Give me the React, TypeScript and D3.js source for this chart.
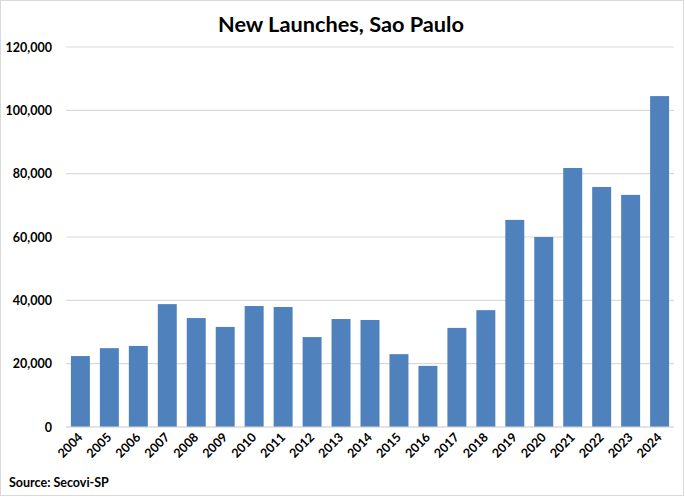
import React from "react";
import * as d3 from "d3";

const years = ["2004","2005","2006","2007","2008","2009","2010","2011","2012","2013","2014","2015","2016","2017","2018","2019","2020","2021","2022","2023","2024"];
const launches = [22400,24900,25600,38800,34400,31600,38200,37900,28400,34100,33800,23000,19300,31300,36900,65400,60000,81800,75800,73300,104500];
const yTicks = [0,20000,40000,60000,80000,100000,120000];

const W = 685, H = 497;
const left = 66, right = 674, top = 47, bottom = 427;
const font = "Lato, 'Open Sans', sans-serif";

export default function App() {
  const x = d3.scaleBand<string>().domain(years).range([left, right]).paddingInner(0.345).paddingOuter(0.17);
  const y = d3.scaleLinear().domain([0, 120000]).range([bottom, top]);
  const fmt = d3.format(",");
  return (
    <svg width={W} height={H} style={{ position: "absolute", left: 0, top: 0, background: "#fff" }} fontFamily={font}>
      <rect x={0.5} y={0.5} width={683} height={495} fill="#fff" stroke="#d9d9d9" />
      <text x={341} y={32} textAnchor="middle" fontSize={20.5} fontWeight={700} textLength={246} lengthAdjust="spacingAndGlyphs">New Launches, Sao Paulo</text>
      {yTicks.map(t => (
        <g key={t}>
          <line x1={left} x2={right} y1={y(t)} y2={y(t)} stroke="#d9d9d9" strokeWidth={1.2} />
          <text x={52} y={y(t) + 4.5} textAnchor="end" fontSize={12.5} fontWeight={700}>{fmt(t)}</text>
        </g>
      ))}
      {years.map((yr, i) => (
        <rect key={yr} x={x(yr)} y={y(launches[i])} width={x.bandwidth()} height={y(0) - y(launches[i])} fill="#4f81bd" />
      ))}
      <line x1={left} x2={right} y1={y(0)} y2={y(0)} stroke="#d9d9d9" strokeWidth={1.2} />
      {years.map(yr => {
        const cx = (x(yr) as number) + x.bandwidth() / 2 + 3;
        const cy = 438;
        return (
          <text key={yr} transform={`translate(${cx},${cy}) rotate(-45)`} textAnchor="end" fontSize={12.5} fontWeight={700}>{yr}</text>
        );
      })}
      <text x={9} y={487} fontSize={12.5} fontWeight={700}>Source: Secovi-SP</text>
    </svg>
  );
}
